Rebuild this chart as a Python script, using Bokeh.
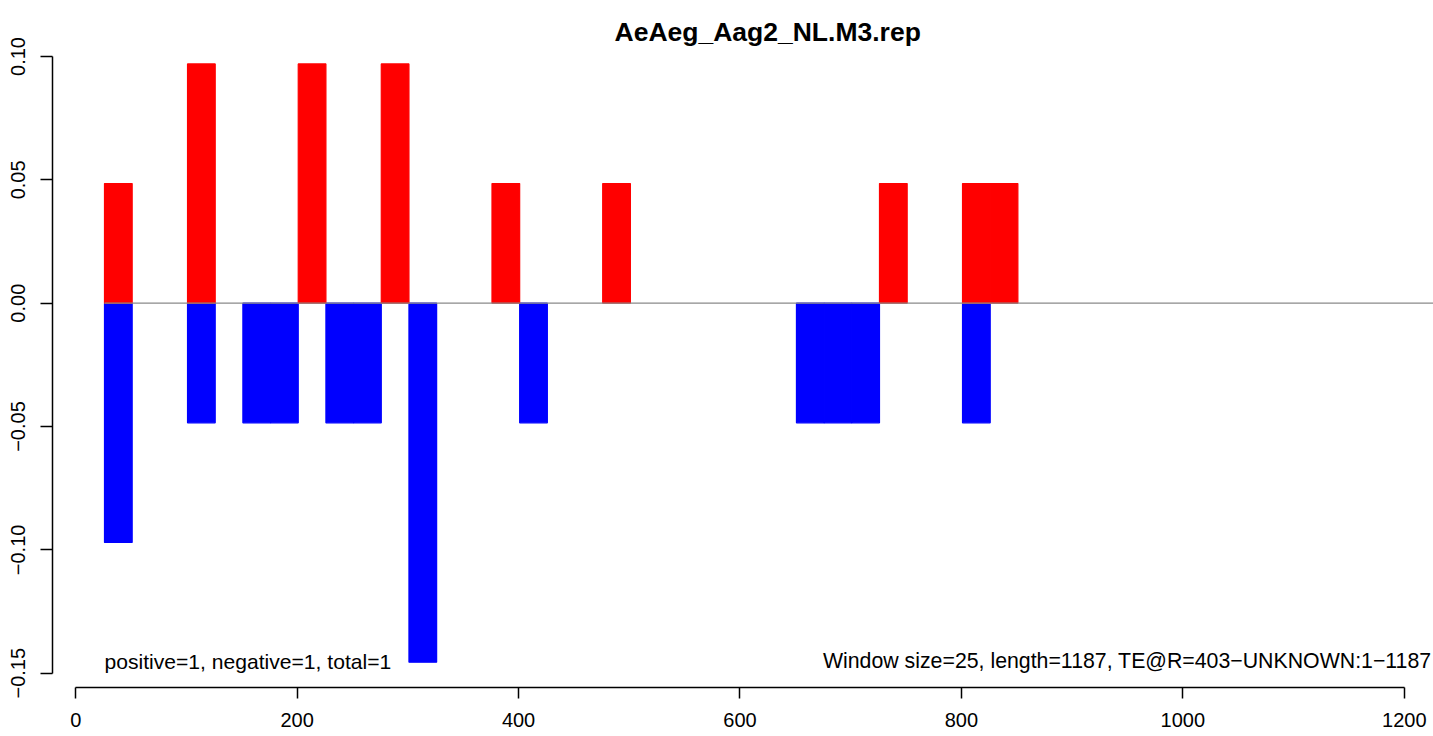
from bokeh.plotting import figure
from bokeh.models import Range1d, FixedTicker, ColumnDataSource, Label
from bokeh.embed import file_html
from bokeh.resources import INLINE

# ---------------- data ----------------
TITLE = "AeAeg_Aag2_NL.M3.rep"
WINDOW = 25
pos_start = [26, 101, 201, 276, 376, 476, 726, 801, 826]
pos_value = [0.0485, 0.097, 0.097, 0.097, 0.0485, 0.0485, 0.0485, 0.0485, 0.0485]
neg_start = [26, 101, 151, 176, 226, 251, 301, 401, 651, 676, 701, 801]
neg_value = [-0.097, -0.0485, -0.0485, -0.0485, -0.0485, -0.0485, -0.1455,
             -0.0485, -0.0485, -0.0485, -0.0485, -0.0485]
x_ticks = [0, 200, 400, 600, 800, 1000, 1200]
y_ticks = [-0.15, -0.10, -0.05, 0.0, 0.05, 0.10]
y_tick_labels = ["\u22120.15", "\u22120.10", "\u22120.05", "0.00", "0.05", "0.10"]
stats_text = "positive=1, negative=1, total=1"
info_text = "Window size=25, length=1187, TE@R=403\u2212UNKNOWN:1\u22121187"

FONT = "Liberation Sans"

# ---------------- figure ----------------
x_lo, x_hi = -20.96, 1226.4
y_lo, y_hi = -0.15578, 0.10081

p = figure(width=1433, height=736, output_backend="svg", toolbar_location=None,
           x_range=Range1d(x_lo, x_hi), y_range=Range1d(y_lo, y_hi),
           min_border_left=52, min_border_right=0, min_border_top=54, min_border_bottom=49)
p.outline_line_color = None
p.grid.visible = False
p.background_fill_color = "white"
p.border_fill_color = "white"

# title
p.title.text = TITLE
p.title.text_font = FONT
p.title.text_font_style = "bold"
p.title.text_font_size = "26.5px"
p.title.text_color = "black"
p.title.align = "left"
p.title.offset = 562
p.title.standoff = 16

# bars
pos_src = ColumnDataSource(dict(left=pos_start, right=[s + WINDOW for s in pos_start],
                                top=pos_value, bottom=[0] * len(pos_value)))
neg_src = ColumnDataSource(dict(left=neg_start, right=[s + WINDOW for s in neg_start],
                                top=[0] * len(neg_value), bottom=neg_value))
p.quad(left="left", right="right", top="top", bottom="bottom", source=neg_src,
       fill_color="#0000FF", line_color="#0000FF", line_width=1.2)
p.quad(left="left", right="right", top="top", bottom="bottom", source=pos_src,
       fill_color="#FF0000", line_color="#FF0000", line_width=1.2)

# zero line
p.line(x=[min(pos_start + neg_start), x_hi + 50], y=[0, 0], line_color="#8a8a8a", line_width=1.3)

# annotations
p.add_layout(Label(x=26, y=-0.14524, text=stats_text, text_font=FONT, text_font_size="21.1px",
                   text_color="black", text_align="left", text_baseline="alphabetic"))
p.add_layout(Label(x=1224.6, y=-0.14524, text=info_text, text_font=FONT, text_font_size="21.3px",
                   text_color="black", text_align="right", text_baseline="alphabetic"))

# axes
for ax in (p.xaxis[0], p.yaxis[0]):
    ax.axis_line_color = "black"
    ax.axis_line_width = 1.5
    ax.major_tick_line_color = "black"
    ax.major_tick_line_width = 1.5
    ax.major_tick_in = 0
    ax.minor_tick_line_color = None
    ax.major_label_text_font = FONT
    ax.major_label_text_font_size = "20px"
    ax.major_label_text_color = "black"

p.xaxis.ticker = FixedTicker(ticks=x_ticks)
p.xaxis.bounds = (x_ticks[0], x_ticks[-1])
p.xaxis.major_tick_out = 11
p.xaxis.major_label_standoff = 14

p.yaxis.ticker = FixedTicker(ticks=y_ticks)
p.yaxis.bounds = (y_ticks[0], y_ticks[-1])
p.yaxis.major_tick_out = 12
p.yaxis.major_label_standoff = 15
p.yaxis.major_label_orientation = "vertical"
p.yaxis.major_label_overrides = {t: l for t, l in zip(y_ticks, y_tick_labels)}

open("out.html", "w").write(file_html(p, INLINE))
